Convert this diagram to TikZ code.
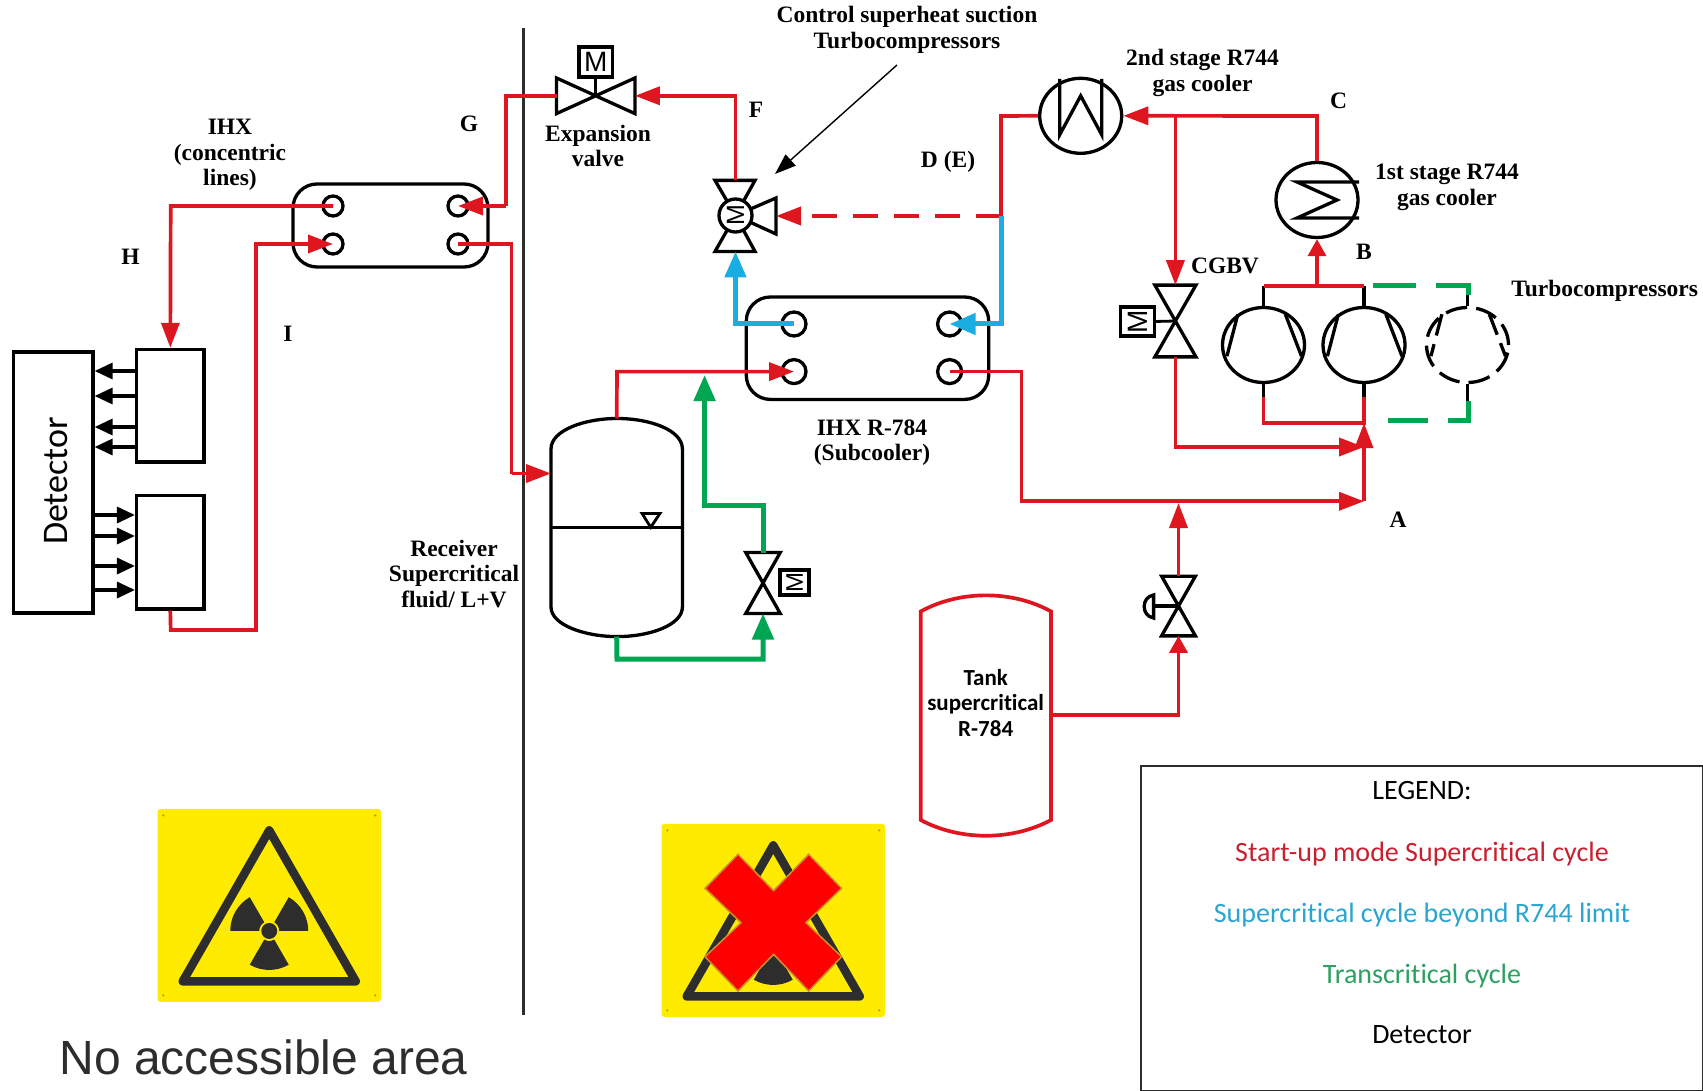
\documentclass[tikz,border=0pt]{standalone}
\usepackage{fontspec}
\usepackage{tikz}
\usetikzlibrary{arrows.meta,positioning,calc,shapes.geometric}
\setmainfont{Liberation Serif}
\newfontfamily\calib[Ligatures=NoCommon]{Carlito}
\newfontfamily\arialfont{Liberation Sans}
\definecolor{pipered}{RGB}{222,22,32}
\definecolor{pipeblue}{RGB}{26,173,226}
\definecolor{pipegreen}{RGB}{0,166,81}
\definecolor{legred}{RGB}{200,32,46}
\definecolor{legblue}{RGB}{42,165,207}
\definecolor{leggreen}{RGB}{43,160,97}
\definecolor{signyellow}{RGB}{255,235,0}
\definecolor{ink}{RGB}{45,45,45}
\tikzset{
    lbl/.style={font=\fontsize{23.5}{25.5}\selectfont\bfseries, align=center, inner sep=0pt},
    legtxt/.style={font=\calib\fontsize{28}{30}\selectfont, inner sep=0pt},
    blk/.style={draw, line width=3.3pt, inner sep=0pt},
    port/.style={circle, draw, line width=3.3pt, minimum size=20pt, inner sep=0pt},
    hxbox/.style={blk, rounded corners=24pt},
    mbox/.style={blk, font=\arialfont\fontsize{28}{28}\selectfont},
    anchorbox/.style={inner sep=0pt, outer sep=0pt},
    cooler/.style={ellipse, draw, line width=3.3pt, minimum width=82pt, minimum height=75pt, inner sep=0pt},
    redline/.style={draw=pipered, line width=3.7pt},
    blueline/.style={draw=pipeblue, line width=5pt},
    greenline/.style={draw=pipegreen, line width=5pt},
    redtip/.style={-{Triangle[length=25pt,width=18pt]}},
    smalltip/.style={-{Triangle[length=17pt,width=18pt]}},
    blktip/.style={line width=3.3pt, -{Triangle[length=18pt,width=16pt]}},
}
% valve, upright: name, x, y, width, height
\newcommand{\valveup}[5]{
    \node[anchorbox, minimum width=#4pt, minimum height=#5pt] (#1) at (#2,#3) {};
    \draw[line width=3.3pt] (#1.north west) -- (#1.north east) -- (#1.south west) -- (#1.south east) -- cycle;
}
% compressor with its two inner lines
\newcommand{\turbo}[4][]{
    \node[cooler, #1] (#2) at (#3,#4) {};
    \draw[line width=3.3pt, #1] (#2) ++(-25.6,-30.8) -- ++(-11,42);
    \draw[line width=3.3pt, #1] (#2) ++(21.8,-30.8) -- ++(16.2,42);
}
% warning plate
\newcommand{\hazard}[3]{
    \node[anchorbox, minimum width=223.5pt, minimum height=193pt, fill=signyellow, rounded corners=3pt] (#1) at (#2,#3) {};
    \draw[ink, line width=8.5pt, line join=round] (#1) ++(0,-75) -- ++(-86.5,151) -- ++(173,0) -- cycle;
    \foreach \sx/\sy in {-106/-90,106/-90,-106/90,106/90}
        \fill[signyellow!70!black] (#1) ++(\sx,\sy) circle (1.3pt);
    \begin{scope}[shift={(#1)}, shift={(0,25.6)}, x=1pt, y=1pt]
        \fill[ink] (0,0) circle (8);
        \foreach \a in {0,120,240}
            \fill[ink] (\a:10) -- (\a:39) arc (\a:\a+60:39) -- (\a+60:10) arc (\a+60:\a:10) -- cycle;
    \end{scope}
}
\begin{document}
\begin{tikzpicture}[x=1pt, y=-1pt]
    \useasboundingbox (0,0) rectangle (1703,1091);

    % Wall
    \draw[ink, line width=3.4pt] (523.6,28) -- (523.6,1015);

    % Detector
    \node[blk, minimum width=79.5pt, minimum height=261pt] (det) at (53.2,482.5) {};
    \node[rotate=90, font=\calib\fontsize{36}{36}\selectfont, inner sep=0pt] (dettxt) at (56,481) {Detector};
    \node[blk, minimum width=67.4pt, minimum height=112.5pt] (upbox) at (170.3,405.7) {};
    \node[blk, minimum width=67.4pt, minimum height=113.3pt] (lowbox) at (170.3,552.3) {};
    \foreach \yy in {371,396,427,447}
        \draw[blktip] (upbox.west |- 0,\yy) -- (det.east |- 0,\yy);
    \foreach \yy in {515,536,566,590}
        \draw[blktip] (det.east |- 0,\yy) -- (lowbox.west |- 0,\yy);

    % IHX concentric
    \node[hxbox, minimum width=195pt, minimum height=83pt] (ihxa) at (390.5,225.5) {};
    \node[port] (ha) at (333,206) {};
    \node[port] (hb) at (333,244) {};
    \node[port] (hc) at (458,206) {};
    \node[port] (hd) at (458,244) {};
    \node[lbl] (ihxatxt) at (230,155) {IHX\\(concentric\\lines)};
    \node[lbl] (lblG) at (469,123.6) {G};
    \node[lbl] (lblH) at (130.6,256.7) {H};
    \node[lbl] (lblI) at (288,334) {I};

    % IHX subcooler
    \node[hxbox, minimum width=242.4pt, minimum height=102.4pt] (ihxb) at (867.5,348.2) {};
    \node[port, minimum size=24pt] (pa) at (794,324) {};
    \node[port, minimum size=24pt] (pb) at (794,371.6) {};
    \node[port, minimum size=24pt] (pc) at (949.6,324) {};
    \node[port, minimum size=24pt] (pd) at (949.6,371.6) {};
    \node[lbl] (ihxbtxt) at (872,442.5) {IHX R-784\\(Subcooler)};

    % Expansion valve
    \node[anchorbox, minimum width=78.4pt, minimum height=35.6pt] (vexp) at (595.7,95.8) {};
    \draw[line width=3.3pt] (vexp.north west) -- (vexp.south west) -- (vexp.north east) -- (vexp.south east) -- cycle;
    \node[mbox, minimum width=33.5pt, minimum height=30pt] (mexp) at (595.7,62) {M};
    \draw[line width=2.8pt] (mexp.south) -- (vexp.center);
    \node[lbl] (exptxt) at (598,146) {Expansion\\valve};
    \node[lbl] (lblF) at (756,110) {F};

    % Three way valve
    \node[anchorbox, minimum size=32pt] (vmix) at (735.5,215.5) {};
    \draw[line width=3.3pt] (vmix.center) -- (715,180.4) -- (755,180.4) -- cycle;
    \draw[line width=3.3pt] (vmix.center) -- (715,251.5) -- (755,251.5) -- cycle;
    \draw[line width=3.3pt] (vmix.center) -- (776,198) -- (776,234) -- cycle;
    \node[circle, draw, fill=white, line width=3.3pt, minimum size=33pt, inner sep=0pt, rotate=90, font=\arialfont\fontsize{25}{25}\selectfont] (mmix) at (vmix) {M};
    \coordinate (vmixT) at (735.5,180.4);
    \coordinate (vmixB) at (735.5,251.5);
    \coordinate (vmixR) at (776,216);
    \node[lbl] (ctrltxt) at (907,30) {Control superheat suction\\Turbocompressors};
    \coordinate (ctrlA) at (897,65);
    \coordinate (ctrlB) at (775,174);
    \draw[line width=1.4pt, -{Triangle[length=21pt,width=15pt]}] (ctrlA) -- (ctrlB);

    % Receiver
    \node[anchorbox, minimum width=131.4pt, minimum height=218pt] (recv) at (616.7,527.5) {};
    \draw[line width=3.3pt] (551,449) .. controls (551,430) and (585,418.5) .. (617,418.5)
        .. controls (650,418.5) and (682.4,430) .. (682.4,449) -- (682.4,607)
        .. controls (682.4,625) and (650,636.6) .. (617,636.6)
        .. controls (585,636.6) and (551,625) .. (551,607) -- cycle;
    \draw[line width=3.3pt] (551,527.3) -- (682.4,527.3);
    \draw[line width=2.8pt] (642,513.4) -- (660,513.4) -- (650.7,527.3) -- cycle;
    \node[lbl] (recvtxt) at (454,574) {Receiver\\Supercritical\\fluid/ L+V};

    % Receiver valve
    \valveup{vrec}{763}{583}{34.5}{61}
    \node[mbox, rotate=90, minimum width=25pt, minimum height=29pt, font=\arialfont\fontsize{24}{24}\selectfont] (mrec) at (794.5,582.5) {M};

    % Coolers
    \node[cooler] (cool2) at (1080.7,115.8) {};
    \draw[line width=3.3pt] (cool2) ++(-21,-37) -- ++(0,56) -- ++(21,-39) -- ++(21,39) -- ++(0,-56);
    \node[cooler] (cool1) at (1317,200) {};
    \draw[line width=3.3pt] (cool1) ++(42,-18) -- ++(-62,0) -- ++(40,18) -- ++(-40,18) -- ++(62,0);
    \node[lbl] (cool2txt) at (1202.6,73) {2nd stage R744\\gas cooler};
    \node[lbl] (cool1txt) at (1447,187.5) {1st stage R744\\gas cooler};
    \node[lbl] (lblC) at (1338.6,101) {C};
    \node[lbl] (lblB) at (1364,252) {B};
    \node[lbl] (lblDE) at (948,162) {D (E)};

    % CGBV
    \valveup{vbyp}{1175.4}{321}{41}{71.7}
    \node[mbox, rotate=90, minimum width=29pt, minimum height=34.3pt] (mbyp) at (1137.5,321.5) {M};
    \draw[line width=2.8pt] (mbyp) ++(17,0) -- (vbyp.center);
    \node[lbl] (bypptxt) at (1225,266) {CGBV};

    % Compressors
    \turbo{tca}{1263.5}{345}
    \turbo{tcb}{1364}{345}
    \turbo[dash pattern=on 22pt off 9pt]{tcc}{1467.5}{345}
    \draw[line width=3.3pt] (tca.north) -- (1263.5,286);
    \draw[line width=3.3pt] (tcb.north) -- (1364,286);
    \draw[line width=3.3pt] (tcc.north) -- (1467.5,295);
    \draw[line width=3.3pt] (tca.south) -- (1263.5,397);
    \draw[line width=3.3pt] (tcb.south) -- (1364,397);
    \draw[line width=3.3pt] (tcc.south) -- (1467.5,401);
    \node[lbl] (tctxt) at (1604.6,290.5) {Turbocompressors};
    \node[lbl] (lblA) at (1398,520) {A};

    % Tank
    \draw[redline] (920.7,820) -- (920.7,611.4) .. controls (960,590) and (1012,590) .. (1051,611.4)
        -- (1051,820) .. controls (1012,841) and (960,841) .. (920.7,820) -- cycle;
    \coordinate (tankout) at (1051,715);
    \node[font=\calib\fontsize{23}{25.5}\selectfont\bfseries, align=center, inner sep=0pt] (tanktxt) at (985.7,703) {Tank\\supercritical\\R-784};

    % Manual valve
    \valveup{vman}{1178.5}{606}{33.8}{59.7}
    \coordinate (vmanL) at (1153.6,606);
    \draw[line width=3.3pt] (vman.center) -- (vmanL);
    \draw[line width=3.3pt] (1153.6,595) .. controls (1141,597) and (1141,616) .. (1153.6,618) -- cycle;

    % Red lines
    \coordinate (bendg) at (505.7,95.8);
    \coordinate (bendga) at (505.7,206);
    \coordinate (bendh) at (170.7,206);
    \coordinate (bendia) at (170.7,630);
    \coordinate (bendib) at (256,630);
    \coordinate (bendic) at (256,244);
    \coordinate (bendra) at (511.6,244);
    \coordinate (bendrb) at (511.6,473.5);
    \coordinate (bendf) at (735.5,95.8);
    \coordinate (recvtop) at (617,371.6);
    \coordinate (bendd) at (1001,116);
    \coordinate (jointd) at (1001,216);
    \coordinate (bendc) at (1317,116);
    \coordinate (jointc) at (1175.4,116);
    \coordinate (hdrb) at (1317,286);
    \coordinate (hdrl) at (1263.5,286);
    \coordinate (hdrr) at (1364,286);
    \coordinate (rtna) at (1263.5,397);
    \coordinate (rtnb) at (1263.5,423);
    \coordinate (rtnc) at (1364,423);
    \coordinate (bypa) at (1175.4,447);
    \coordinate (bypb) at (1364,447);
    \coordinate (maina) at (1021.4,371.6);
    \coordinate (mainb) at (1021.4,501.3);
    \coordinate (mainc) at (1364,501.3);
    \coordinate (tanka) at (1178.5,715);
    \coordinate (tankb) at (1178.5,503);

    \draw[redline] (vexp.west) -- (bendg) -- (bendga);
    \draw[redline, redtip] (bendga) -- (hc.center);
    \draw[redline, redtip] (ha.center) -- (bendh) -- (upbox.north);
    \draw[redline, redtip] (lowbox.south) -- (bendia) -- (bendib) -- (bendic) -- (hb.center);
    \draw[redline] (hd.center) -- (bendra) -- (bendrb);
    \draw[redline, redtip] (bendrb) -- (recv.west |- bendrb);
    \draw[redline, redtip] (vmixT) -- (bendf) -- (vexp.east);
    \draw[redline, redtip] (recv.north) -- (recvtop) -- (pb.center);
    \draw[redline, dash pattern=on 25pt off 16pt, -{Triangle[length=25pt,width=18pt]}] (jointd) -- (vmixR);
    \draw[redline] (jointd) -- (bendd) -- (cool2.west);
    \draw[redline, redtip] (cool1.north) -- (bendc) -- (cool2.east);
    \draw[redline, redtip] (jointc) -- (vbyp.north);
    \draw[redline, smalltip] (hdrb) -- (cool1.south);
    \draw[redline] (hdrl) -- (hdrr);
    \draw[redline] (rtna) -- (rtnb) -- (rtnc) -- (tcb |- rtna);
    \draw[redline, redtip] (vbyp.south) -- (bypa) -- (bypb);
    \draw[redline, redtip] (pd.center) -- (maina) -- (mainb) -- (mainc);
    \draw[redline, redtip] (mainc) -- (rtnc);
    \draw[redline, redtip] (vman.north) -- (tankb);
    \draw[redline, smalltip] (tankout) -- (tanka) -- (vman.south);

    % Blue lines
    \draw[blueline, -{Triangle[length=26pt,width=21pt]}] (pa.center) -- (735.5,324) -- (vmixB);
    \draw[blueline, -{Triangle[length=26pt,width=21pt]}] (jointd) -- (1001,324) -- (pc.center);

    % Green lines
    \draw[greenline, -{Triangle[length=26pt,width=21pt]}] (recv.south) -- (617,659) -- (763,659) -- (vrec.south);
    \draw[greenline, -{Triangle[length=26pt,width=21pt]}] (vrec.north) -- (763,505.6) -- (704.6,505.6) -- (704.6,375);
    \draw[greenline, dash pattern=on 43pt off 20pt] (1373,286) -- (1468.6,286) -- (1468.6,295);
    \draw[greenline, dash pattern=on 40pt off 20pt] (1468.6,401) -- (1468.6,420) -- (1386,420);

    % Signs
    \hazard{signa}{269.25}{905.35}
    \hazard{signb}{773.25}{920.35}
    \draw[fill=red, draw=black!30!yellow!70!red, line width=1.5pt] (738,854.3) -- (773.6,890.7) -- (808.7,854.3) -- (841.6,888.3)
        -- (806,922.7) -- (841.6,956.7) -- (808.7,991) -- (773.6,954.3) -- (738,991)
        -- (705,956.7) -- (741,922.7) -- (705,888.3) -- cycle;
    \node[font=\arialfont\fontsize{48}{48}\selectfont, text=ink, inner sep=0pt] (noarea) at (263.5,1057) {No accessible area};

    % Legend
    \node[draw=ink, line width=2pt, minimum width=562pt, minimum height=325pt, inner sep=0pt] (legend) at (1422,928.5) {};
    \node[legtxt] (legt) at (1422,791) {LEGEND:};
    \node[legtxt, text=legred] (lega) at (1422,854) {Start-up mode Supercritical cycle};
    \node[legtxt, text=legblue] (legb) at (1422,915) {Supercritical cycle beyond R744 limit};
    \node[legtxt, text=leggreen] (legc) at (1422,976) {Transcritical cycle};
    \node[legtxt] (legd) at (1422,1035) {Detector};
\end{tikzpicture}
\end{document}
